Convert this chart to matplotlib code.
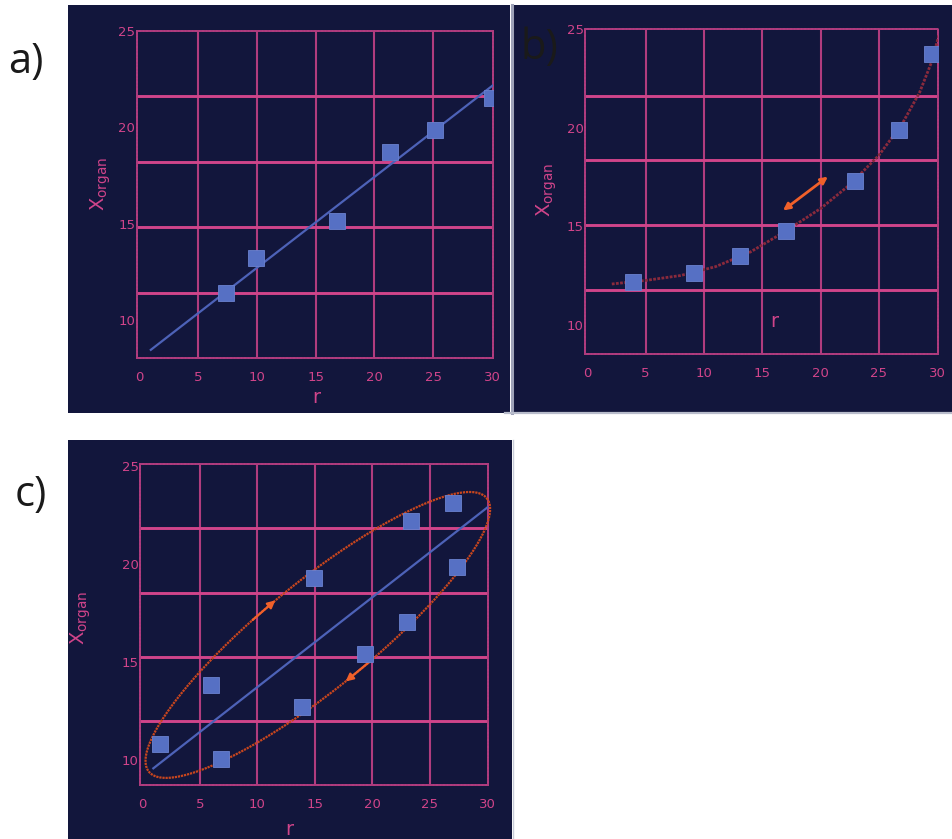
import numpy as np
import matplotlib
matplotlib.use('Agg')
import matplotlib.pyplot as plt
from matplotlib.patches import Rectangle
from matplotlib.lines import Line2D

W, H = 952, 839

# --- data ---------------------------------------------------------------
# a) linear relation
a_r = [7.37, 9.95, 16.8, 21.34, 25.17, 29.99]
a_x = [11.41, 13.19, 15.12, 18.71, 19.84, 21.51]
a_fit_r = [1.0, 30.3]
a_fit_x = [8.44, 22.29]

# b) non-linear relation
b_r = [3.94, 9.16, 13.13, 17.07, 22.98, 26.77, 29.54]
b_x = [12.18, 12.61, 13.48, 14.74, 17.28, 19.87, 23.76]
b_curve_r = [2.1, 5.0, 8.0, 11.0, 14.0, 17.0, 20.0, 22.5, 25.0, 27.0, 28.5, 29.5, 30.2]
b_curve_x = [12.07, 12.25, 12.5, 12.95, 13.7, 14.75, 15.9, 17.1, 18.6, 20.2, 21.8, 23.3, 24.8]
b_arrow_r = [16.78, 20.63]
b_arrow_x = [15.8, 17.52]

# c) scattered relation
c_r = [1.51, 5.95, 6.82, 13.85, 14.95, 19.36, 23.0, 23.37, 27.06, 27.35]
c_x = [10.8, 13.83, 10.05, 12.72, 19.26, 15.42, 17.02, 22.19, 23.09, 19.85]
c_fit_r = [0.96, 30.28]
c_fit_x = [9.57, 22.99]
# spread ellipse: centre and two conjugate semi-axes (data units)
ell_center = (15.27, 16.37)
ell_major = (14.70, 6.97)
ell_minor = (2.93, -2.13)
ell_arrow_deg = [92, 267]

xticks = [0, 5, 10, 15, 20, 25, 30]
yticks = [10, 15, 20, 25]

# --- colours ------------------------------------------------------------
NAVY = '#12163c'
PINK = '#d0448a'
PINK_V = '#b03c7e'
BLUE = '#4d62b8'
SQUARE = '#5670c4'
ORANGE = '#f0602a'
ELLIPSE = '#c8461e'
CURVE = '#8a2a3c'

fig = plt.figure(figsize=(W / 100, H / 100), dpi=100)
fig.patch.set_facecolor('white')


def box(x0, y0, x1, y1):
    return [x0 / W, 1 - y1 / H, (x1 - x0) / W, (y1 - y0) / H]


def ellipse_pt(deg):
    t = np.radians(deg)
    return (ell_center[0] + np.cos(t) * ell_major[0] + np.sin(t) * ell_minor[0],
            ell_center[1] + np.cos(t) * ell_major[1] + np.sin(t) * ell_minor[1])


# panel backgrounds
for x0, y0, x1, y1 in [(68, 5, 510, 413), (513, 5, 952, 413), (68, 440, 512, 839)]:
    fig.patches.append(Rectangle((x0 / W, 1 - y1 / H), (x1 - x0) / W, (y1 - y0) / H,
                                 transform=fig.transFigure, facecolor=NAVY,
                                 edgecolor='none', zorder=-10))
fig.add_artist(Line2D([511.5 / W] * 2, [1 - 5 / H, 1 - 413 / H], color='#9ea2b8', lw=2.2, zorder=-5))
fig.add_artist(Line2D([505 / W, 1], [1 - 413 / H] * 2, color='#b8bccb', lw=1.6, zorder=-5))
fig.add_artist(Line2D([512.5 / W] * 2, [1 - 440 / H, 0], color='#c8ccd8', lw=1.0, zorder=-5))


def setup(ax, ylim, xlab_pos, ylab_pos):
    ax.set_facecolor(NAVY)
    ax.set_xlim(-0.2, 30.1)
    ax.set_ylim(*ylim)
    for v in xticks[1:-1]:
        ax.axvline(v, color=PINK_V, lw=1.5, zorder=1)
    for v in np.linspace(ylim[0], ylim[1], 6)[1:-1]:
        ax.axhline(v, color=PINK, lw=2.1, zorder=1)
    for s in ax.spines.values():
        s.set_color(PINK_V)
        s.set_linewidth(1.4)
        s.set_linestyle((0, (1.2, 0.6)))
    ax.set_xticks(xticks)
    ax.set_yticks(yticks)
    ax.tick_params(length=0, colors=PINK, labelsize=9.5)
    ax.tick_params(axis='x', pad=9)
    ax.tick_params(axis='y', pad=1)
    ax.set_xlabel('r', color=PINK, fontsize=14)
    ax.set_ylabel(r'$\mathrm{X}_{\mathrm{organ}}$', color=PINK, fontsize=14)
    ax.xaxis.set_label_coords(*xlab_pos)
    ax.yaxis.set_label_coords(*ylab_pos)


sq = dict(marker='s', ls='none', ms=11, mfc=SQUARE, mec='#6a82d0', mew=0.6, zorder=5)

# a)
ax_a = fig.add_axes(box(136.7, 31, 493.3, 358.3))
setup(ax_a, (8.0, 25.0), (0.505, -0.09), (-0.066, 0.533))
ax_a.plot(a_fit_r, a_fit_x, color=BLUE, lw=1.6, zorder=3)
ax_a.plot(a_r, a_x, **sq)

# b)
ax_b = fig.add_axes(box(585, 29.3, 938.3, 354.3))
setup(ax_b, (8.5, 24.9), (0.536, 0.13), (-0.073, 0.506))
ax_b.plot(b_curve_r, b_curve_x, color=CURVE, lw=2.0, ls=(0, (1, 0.5)), zorder=3)
ax_b.annotate('', xy=(b_arrow_r[1], b_arrow_x[1]), xytext=(b_arrow_r[0], b_arrow_x[0]),
              arrowprops=dict(arrowstyle='<|-|>', color=ORANGE, lw=2.0,
                              mutation_scale=10, shrinkA=0, shrinkB=0), zorder=4)
ax_b.plot(b_r, b_x, **sq)

# c)
ax_c = fig.add_axes(box(140, 464.3, 488.3, 785))
setup(ax_c, (8.72, 25.07), (0.43, -0.11), (-0.135, 0.52))
ell_r, ell_x = ellipse_pt(np.linspace(0, 360, 361))
ax_c.plot(ell_r, ell_x, color=ELLIPSE, lw=1.6, ls=(0, (1, 0.4)), zorder=3, clip_on=False)
for deg in ell_arrow_deg:
    ax_c.annotate('', xy=ellipse_pt(deg), xytext=ellipse_pt(deg - 8),
                  arrowprops=dict(arrowstyle='-|>', color=ORANGE, lw=1.6,
                                  mutation_scale=11, shrinkA=0, shrinkB=0), zorder=4)
ax_c.plot(c_fit_r, c_fit_x, color=BLUE, lw=1.6, zorder=3)
ax_c.plot(c_r, c_x, **sq)

# panel letters
for lab, x, y in [('a)', 8, 62), ('b)', 521, 48), ('c)', 15, 495)]:
    fig.text(x / W, 1 - y / H, lab, fontsize=30, family='Open Sans',
             color='#1a1a1a', ha='left', va='center')

fig.savefig('out.png', dpi=100, facecolor='white')
